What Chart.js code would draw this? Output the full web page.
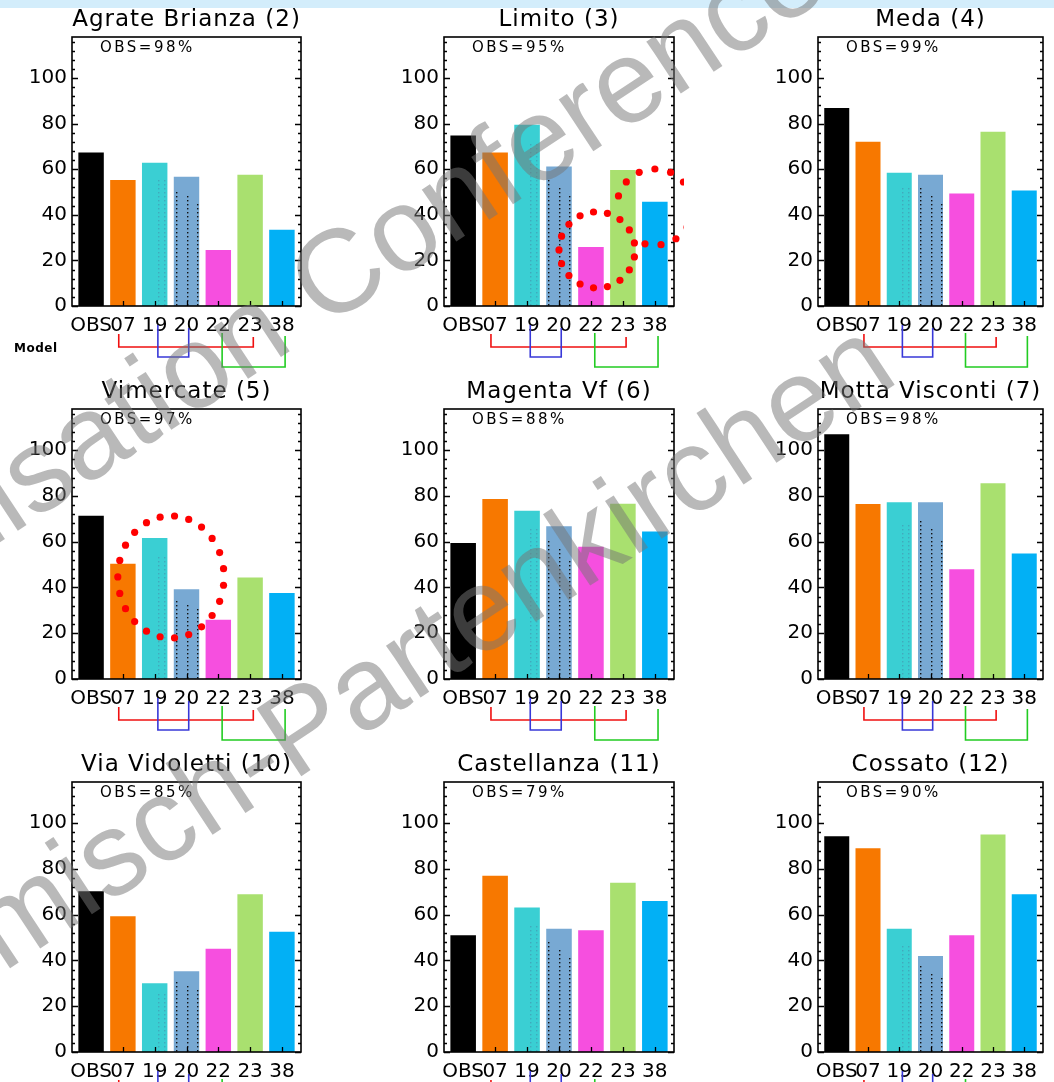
<!DOCTYPE html>
<html>
<head>
<meta charset="utf-8">
<script src="https://cdn.jsdelivr.net/npm/chart.js@4/dist/chart.umd.min.js"></script>
<style>
  html, body { margin: 0; padding: 0; background: #ffffff; overflow: hidden; }
  #page { position: relative; width: 1054px; height: 1082px; overflow: hidden; background: #ffffff; }
  #band { position: absolute; left: 0; top: 0; width: 1054px; height: 8px; background: #d3edfb; }
  #mark { position: absolute; left: 0; top: 0; pointer-events: none; z-index: 5; }
</style>
</head>
<body>
<div id="page">
  <div id="band"></div>
  <svg id="mark" width="1054" height="1082">
    <g font-family="Liberation Sans, Arial, sans-serif" font-size="118" fill="rgb(117,117,117)" fill-opacity="0.51">
      <text x="-339" y="766" transform="rotate(-33.4 -339 766)">Harmonisation Conference</text>
      <text x="-161" y="1081" transform="rotate(-33.4 -161 1081)">Garmisch-Partenkirchen</text>
    </g>
  </svg>
</div>
<script>
// Models compared at each station (OBS = observed value)
const models = ['OBS', '07', '19', '20', '22', '23', '38'];
const modelColors = ['#000000', '#f77800', '#3acfd3', '#78a9d3', '#f64fdf', '#a9e06f', '#02b0f5'];

const stations = [
  'Agrate Brianza (2)', 'Limito (3)', 'Meda (4)',
  'Vimercate (5)', 'Magenta Vf (6)', 'Motta Visconti (7)',
  'Via Vidoletti (10)', 'Castellanza (11)', 'Cossato (12)'
];
const obsAvailability = [98, 95, 99, 97, 88, 98, 85, 79, 90];

// Values per station, in model order
const agrateBrianza = [67.3, 55.3, 62.8, 56.7, 24.6, 57.6, 33.4];
const limito        = [74.8, 67.3, 79.5, 61.2, 25.9, 59.7, 45.7];
const meda          = [86.9, 72.0, 58.4, 57.6, 49.3, 76.4, 50.7];
const vimercate     = [71.3, 50.4, 61.6, 39.2, 25.9, 44.4, 37.6];
const magentaVf     = [59.4, 78.7, 73.5, 66.8, 57.8, 76.6, 64.5];
const mottaVisconti = [107.0, 76.5, 77.2, 77.2, 48.0, 85.5, 54.8];
const viaVidoletti  = [70.3, 59.3, 30.1, 35.3, 45.1, 68.9, 52.5];
const castellanza   = [51.0, 77.0, 63.1, 53.9, 53.2, 74.0, 66.0];
const cossato       = [94.3, 89.1, 53.9, 42.0, 51.0, 95.1, 68.9];

const stationValues = [agrateBrianza, limito, meda, vimercate, magentaVf, mottaVisconti, viaVidoletti, castellanza, cossato];

const yMax = 118;
const yStep = 20;
const yMinorStep = 4;

// Model families linked under the x axis: index pairs
const modelLinks = [
  { from: 1, to: 5, color: '#f01010', top: 28, depth: 41, dxFrom: -0.13, dxTo: 0.1 },
  { from: 2, to: 3, color: '#3838d8', top: 19, depth: 51, dxFrom: 0.1, dxTo: 0.07 },
  { from: 4, to: 6, color: '#22cc22', top: 27, depth: 61, dxFrom: 0.12, dxTo: 0.1 }
];

// Highlight rings (red dotted), in axis units: centre (index, value), radii, arc in degrees
const highlightRings = {
  1: [
    { cx: 4.19, cy: 24.6, rx: 1.19, ry: 16.7, a0: -180, a1: 180, n: 17 },
    { cx: 6.0, cy: 43.4, rx: 1.19, ry: 16.7, a0: -163, a1: 105, n: 12 }
  ],
  3: [
    { cx: 2.51, cy: 44.6, rx: 1.67, ry: 26.7, a0: -180, a1: 180, n: 23 }
  ]
};

// Panel layout
const colLeft = [72, 444, 818];
const colWidth = [229, 230, 225];
const rowTop = [37, 409, 782];
const rowHeight = [269, 270, 270];
const AXIS_W = 72, AXIS_H = 72, PAD_TOP = 37, PAD_RIGHT = 10;

const FONT = 'DejaVu Sans, Verdana, sans-serif';

function dottedColumn(ctx, px, yTop, yBottom, color, step) {
  ctx.fillStyle = color;
  for (let yy = yBottom - 2; yy > yTop + 1; yy -= step) {
    ctx.fillRect(Math.round(px), Math.round(yy), 1.4, 1.4);
  }
}

const panelDecor = {
  id: 'panelDecor',
  afterDatasetsDraw(chart, args, opts) {
    const { ctx, chartArea: a, scales: { x, y } } = chart;
    const meta = chart.getDatasetMeta(0);
    ctx.save();

    // dotted texture inside the 19 and 20 bars
    const b19 = meta.data[2], b20 = meta.data[3];
    if (b19) {
      const l = b19.x - b19.width / 2, h = b19.base - b19.y;
      [0.62, 0.86].forEach(f => dottedColumn(ctx, l + f * b19.width, b19.y + 0.1 * h, b19.base, 'rgba(70,140,170,0.55)', 4));
    }
    if (b20) {
      const l = b20.x - b20.width / 2, h = b20.base - b20.y;
      dottedColumn(ctx, l + 0.08 * b20.width, b20.y + 0.08 * h, b20.base, '#111', 4);
      dottedColumn(ctx, l + 0.5 * b20.width, b20.y + 0.14 * h, b20.base, '#111', 4);
      dottedColumn(ctx, l + 0.9 * b20.width, b20.y + 0.2 * h, b20.base, '#111', 4);
    }

    // frame
    ctx.strokeStyle = '#000';
    ctx.lineWidth = 1.6;
    ctx.strokeRect(a.left, a.top, a.right - a.left, a.bottom - a.top);

    // inward ticks on left and right axes
    ctx.lineWidth = 1.3;
    ctx.beginPath();
    for (let v = 0; v <= yMax; v += yMinorStep) {
      const py = Math.round(y.getPixelForValue(v)) + 0.5;
      const len = v % yStep === 0 ? 6 : 3;
      ctx.moveTo(a.left, py); ctx.lineTo(a.left + len, py);
      ctx.moveTo(a.right, py); ctx.lineTo(a.right - len, py);
    }
    // inward ticks on bottom axis
    models.forEach((m, i) => {
      const px = Math.round(x.getPixelForValue(i)) + 0.5;
      ctx.moveTo(px, a.bottom); ctx.lineTo(px, a.bottom - 5);
    });
    ctx.stroke();

    // model links under the axis
    ctx.lineWidth = 1.6;
    modelLinks.forEach(lk => {
      const x0 = x.getPixelForValue(lk.from + lk.dxFrom);
      const x1 = x.getPixelForValue(lk.to + lk.dxTo);
      const yb = a.bottom + lk.depth;
      ctx.strokeStyle = lk.color;
      ctx.beginPath();
      ctx.moveTo(x0, a.bottom + lk.top);
      ctx.lineTo(x0, yb);
      ctx.lineTo(x1, yb);
      ctx.lineTo(x1, a.bottom + lk.top + 3);
      ctx.stroke();
    });

    // highlight rings
    (opts.rings || []).forEach(r => {
      const cx = x.getPixelForValue(r.cx), cy = y.getPixelForValue(r.cy);
      const rx = Math.abs(x.getPixelForValue(r.cx + r.rx) - cx);
      const ry = Math.abs(y.getPixelForValue(r.cy + r.ry) - cy);
      ctx.fillStyle = '#ff0000';
      const full = (r.a1 - r.a0) >= 360;
      const count = r.n;
      for (let k = 0; k < count; k++) {
        const t = full ? k / count : k / (count - 1);
        const ang = (r.a0 + t * (r.a1 - r.a0)) * Math.PI / 180;
        ctx.beginPath();
        ctx.arc(cx + rx * Math.cos(ang), cy + ry * Math.sin(ang), 3.6, 0, Math.PI * 2);
        ctx.fill();
      }
    });

    ctx.restore();
  },
  afterDraw(chart, args, opts) {
    const { ctx, chartArea: a } = chart;
    ctx.save();
    ctx.fillStyle = '#000';

    // station title
    ctx.font = '23px ' + FONT;
    ctx.letterSpacing = '1px';
    ctx.textAlign = 'center';
    ctx.textBaseline = 'middle';
    ctx.fillText(opts.title, (a.left + a.right) / 2, a.top - 17);

    // observation availability
    ctx.font = '15px ' + FONT;
    ctx.letterSpacing = '2.5px';
    ctx.textAlign = 'left';
    ctx.fillText('OBS=' + opts.obs + '%', a.left + 28, a.top + 11);

    if (opts.axisName) {
      ctx.font = 'bold 12px ' + FONT;
      ctx.letterSpacing = '0.5px';
      ctx.fillText(opts.axisName, a.left - 58, a.bottom + 43);
    }
    ctx.restore();
  }
};

const page = document.getElementById('page');
const mark = document.getElementById('mark');

stations.forEach((name, k) => {
  const c = k % 3, r = Math.floor(k / 3);
  const W = colWidth[c] + AXIS_W + PAD_RIGHT;
  const H = rowHeight[r] + PAD_TOP + AXIS_H;
  const cv = document.createElement('canvas');
  cv.width = W; cv.height = H;
  cv.style.cssText = `position:absolute;left:${colLeft[c] - AXIS_W}px;top:${rowTop[r] - PAD_TOP}px;width:${W}px;height:${H}px;`;
  page.insertBefore(cv, mark);

  const values = stationValues[k];
  new Chart(cv, {
    type: 'bar',
    data: {
      datasets: [{
        data: values.map((v, i) => ({ x: i, y: v })),
        backgroundColor: modelColors,
        borderWidth: 0,
        barPercentage: 0.8,
        categoryPercentage: 1
      }]
    },
    options: {
      responsive: false,
      animation: false,
      devicePixelRatio: 1,
      layout: { padding: { top: PAD_TOP, right: PAD_RIGHT, left: 0, bottom: 0 } },
      plugins: {
        legend: { display: false },
        tooltip: { enabled: false },
        title: { display: false },
        panelDecor: {
          title: name,
          obs: obsAvailability[k],
          axisName: k === 0 ? 'Model' : null,
          rings: highlightRings[k] || []
        }
      },
      scales: {
        x: {
          type: 'linear',
          min: -0.6,
          max: 6.6,
          offset: false,
          grid: { display: false, drawTicks: false },
          border: { display: false },
          afterBuildTicks: s => { s.ticks = models.map((m, i) => ({ value: i })); },
          afterFit: s => { s.height = AXIS_H; },
          ticks: {
            autoSkip: false,
            maxRotation: 0,
            padding: 8,
            color: '#000',
            font: { family: FONT, size: 20 },
            callback: v => models[v] !== undefined ? models[v] : ''
          }
        },
        y: {
          min: 0,
          max: yMax,
          grid: { display: false, drawTicks: false },
          border: { display: false },
          afterFit: s => { s.width = AXIS_W; },
          ticks: {
            stepSize: yStep,
            includeBounds: false,
            padding: 5,
            color: '#000',
            font: { family: FONT, size: 20 }
          }
        }
      }
    },
    plugins: [panelDecor]
  });
});
</script>
</body>
</html>
